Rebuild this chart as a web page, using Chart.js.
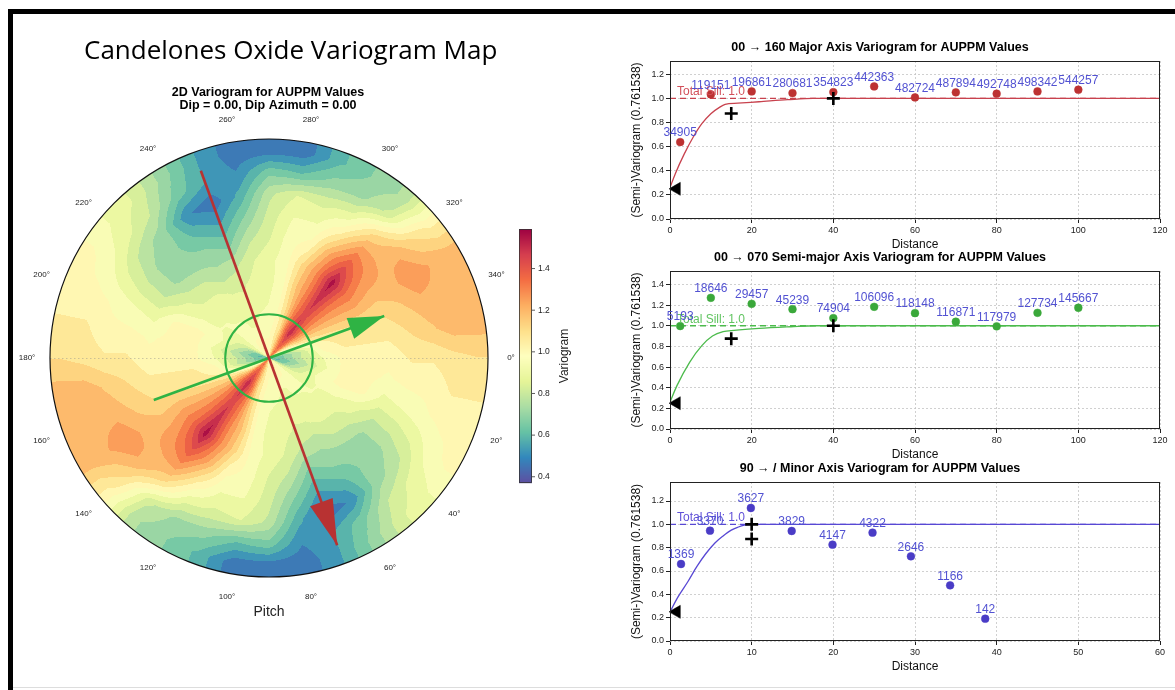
<!DOCTYPE html>
<html>
<head>
<meta charset="utf-8">
<script src="https://cdn.jsdelivr.net/npm/chart.js@4.4.1/dist/chart.umd.min.js"></script>
<style>
  html, body { margin: 0; padding: 0; width: 1175px; height: 690px; overflow: hidden; background: #fff; }
  .edge { position: absolute; background: #000; }
  #mainTitle { position: absolute; left: 84px; top: 32px; font-family: 'Open Sans', sans-serif; font-size: 26px;
               line-height: 34px; color: #000; white-space: nowrap; z-index: 5; }
  canvas { position: absolute; }
</style>
</head>
<body>
<div class="edge" style="left:8px;top:9px;width:1167px;height:5px"></div>
<div class="edge" style="left:8px;top:9px;width:5px;height:681px"></div>
<div class="edge" style="left:13px;top:687px;width:1162px;height:1px;background:#ddd"></div>
<div id="mainTitle">Candelones Oxide Variogram Map</div>

<canvas id="mapChart" width="600" height="690" style="left:0;top:0"></canvas>
<canvas id="majorChart" width="630" height="219" style="left:600px;top:35px"></canvas>
<canvas id="semiChart" width="630" height="219" style="left:600px;top:245px"></canvas>
<canvas id="minorChart" width="630" height="220" style="left:600px;top:456px"></canvas>

<script>
// ---------------- 2D variogram map ----------------
// Angles (degrees, clockwise from east) of the map columns. The map is centrosymmetric,
// so the column at angle a also holds the values at a + 180.
const mapAngles = [0, 10, 20, 30, 40, 50, 60, 70, 80, 90, 100, 110, 120, 130, 140, 150, 160, 170];
// Lag rings as a fraction of the maximum lag
const mapRadii = [0.05, 0.15, 0.25, 0.35, 0.45, 0.55, 0.65, 0.75, 0.85, 0.95];
// Standardised variogram value per angle (rows) and ring (columns)
const mapGamma = [
  [0.65, 0.80, 0.92, 1.00, 1.00, 1.00, 1.05, 1.05, 1.08, 1.10],
  [0.60, 0.75, 0.90, 1.00, 1.00, 0.97, 1.00, 1.00, 1.05, 1.05],
  [0.65, 0.82, 0.95, 1.00, 1.00, 0.90, 0.93, 0.97, 1.00, 1.00],
  [0.85, 0.88, 0.92, 0.92, 0.88, 0.80, 0.82, 0.87, 0.95, 1.00],
  [0.95, 0.93, 0.92, 0.88, 0.82, 0.72, 0.72, 0.77, 0.88, 0.92],
  [1.00, 0.95, 0.90, 0.88, 0.80, 0.70, 0.68, 0.70, 0.80, 0.85],
  [1.05, 0.92, 0.90, 0.85, 0.75, 0.70, 0.60, 0.50, 0.65, 0.70],
  [1.00, 0.92, 0.88, 0.85, 0.78, 0.65, 0.55, 0.45, 0.55, 0.55],
  [1.00, 0.95, 0.90, 0.88, 0.85, 0.78, 0.68, 0.58, 0.50, 0.45],
  [1.00, 0.95, 0.92, 0.90, 0.90, 0.85, 0.82, 0.78, 0.65, 0.45],
  [1.05, 1.00, 0.97, 0.95, 0.95, 0.95, 0.92, 0.86, 0.62, 0.45],
  [1.15, 1.10, 1.12, 1.15, 1.12, 1.00, 0.92, 0.84, 0.70, 0.60],
  [1.25, 1.35, 1.32, 1.30, 1.30, 1.22, 1.05, 0.88, 0.72, 0.68],
  [1.35, 1.52, 1.45, 1.50, 1.56, 1.40, 1.25, 1.08, 0.82, 0.75],
  [1.30, 1.35, 1.32, 1.32, 1.34, 1.28, 1.22, 1.20, 1.10, 1.02],
  [1.00, 1.15, 1.18, 1.20, 1.22, 1.18, 1.20, 1.28, 1.22, 1.20],
  [0.75, 0.95, 1.05, 1.08, 1.10, 1.10, 1.15, 1.20, 1.20, 1.20],
  [0.65, 0.80, 1.00, 1.05, 1.05, 1.05, 1.10, 1.15, 1.20, 1.20]
];
const colorMin = 0.37, colorMax = 1.59, colorLevels = 20;
const colorTicks = [0.4, 0.6, 0.8, 1.0, 1.2, 1.4];
const pitchTicks = [0, 20, 40, 60, 80, 100, 120, 140, 160, 180, 200, 220, 240, 260, 280, 300, 320, 340];
// Fitted anisotropy axes: direction of the arrow head (deg) and half length (fraction of max lag)
const axisAngles = [70, 340];
const axisLengths = [0.91, 0.56];
const axisColors = ['#b83232', '#2fb344'];
const minorRangeRadius = 0.2;

// Spectral_r colour map
const spectralStops = [[94,79,162],[50,136,189],[102,194,165],[171,221,164],[230,245,152],[255,255,191],
                       [254,224,139],[253,174,97],[244,109,67],[213,62,79],[158,1,66]];
function spectralR(t) {
  t = Math.max(0, Math.min(1, t));
  const s = t * (spectralStops.length - 1);
  const i = Math.min(spectralStops.length - 2, Math.floor(s));
  const f = s - i, a = spectralStops[i], b = spectralStops[i + 1];
  return [a[0] + (b[0] - a[0]) * f, a[1] + (b[1] - a[1]) * f, a[2] + (b[2] - a[2]) * f];
}

function sampleMap(r, th) {
  const nA = mapAngles.length, full = nA * 2;
  const aStep = mapAngles[1] - mapAngles[0];
  let ai = (th - mapAngles[0]) / aStep;
  ai = ((ai % full) + full) % full;
  const i0 = Math.floor(ai), f = ai - i0, i1 = (i0 + 1) % full;
  const row0 = mapGamma[i0 % nA], row1 = mapGamma[i1 % nA];
  const rStep = mapRadii[1] - mapRadii[0];
  let ri = (r - mapRadii[0]) / rStep;
  ri = Math.max(0, Math.min(mapRadii.length - 1, ri));
  const k0 = Math.floor(ri), k1 = Math.min(k0 + 1, mapRadii.length - 1), g = ri - k0;
  const v0 = row0[k0] * (1 - g) + row0[k1] * g;
  const v1 = row1[k0] * (1 - g) + row1[k1] * g;
  return v0 * (1 - f) + v1 * f;
}

function levelColor(v) {
  const step = (colorMax - colorMin) / colorLevels;
  let k = Math.floor((v - colorMin) / step);
  k = Math.max(0, Math.min(colorLevels - 1, k));
  return spectralR((k + 0.5) / colorLevels);
}

const deg = Math.PI / 180;
function axisPoints(i) {
  const a = axisAngles[i] * deg, L = axisLengths[i];
  return [{x: -L * Math.cos(a), y: -L * Math.sin(a)}, {x: L * Math.cos(a), y: L * Math.sin(a)}];
}

const polarMapPlugin = {
  id: 'polarMap',
  beforeDatasetsDraw(chart) {
    const {ctx, chartArea: a, scales: {x, y}} = chart;
    const w = Math.round(a.right - a.left), h = Math.round(a.bottom - a.top);
    const off = document.createElement('canvas');
    off.width = w; off.height = h;
    const octx = off.getContext('2d');
    const img = octx.createImageData(w, h);
    for (let j = 0; j < h; j++) {
      const vy = y.getValueForPixel(a.top + j + 0.5);
      for (let i = 0; i < w; i++) {
        const vx = x.getValueForPixel(a.left + i + 0.5);
        const r = Math.hypot(vx, vy);
        if (r > 1) continue;
        let th = Math.atan2(vy, vx) / deg;
        if (th < 0) th += 360;
        const c = levelColor(sampleMap(r, th));
        const k = (j * w + i) * 4;
        img.data[k] = c[0]; img.data[k + 1] = c[1]; img.data[k + 2] = c[2]; img.data[k + 3] = 255;
      }
    }
    octx.putImageData(img, 0, 0);
    ctx.drawImage(off, a.left, a.top);

    const cx = x.getPixelForValue(0), cy = y.getPixelForValue(0);
    const R = x.getPixelForValue(1) - cx;
    // faint polar grid line along 0/180
    ctx.save();
    ctx.strokeStyle = 'rgba(140,140,140,0.55)';
    ctx.lineWidth = 0.8;
    ctx.setLineDash([1.5, 2.5]);
    ctx.beginPath(); ctx.moveTo(cx - R, cy + 0.5); ctx.lineTo(cx + R, cy + 0.5); ctx.stroke();
    ctx.setLineDash([]);
    // outer boundary
    ctx.strokeStyle = '#111'; ctx.lineWidth = 1.2;
    ctx.beginPath(); ctx.arc(cx, cy, R, 0, Math.PI * 2); ctx.stroke();
    // minor range circle
    ctx.strokeStyle = axisColors[1]; ctx.lineWidth = 2;
    ctx.beginPath(); ctx.arc(cx, cy, minorRangeRadius * R, 0, Math.PI * 2); ctx.stroke();
    ctx.restore();
  },
  afterDatasetsDraw(chart) {
    const {ctx} = chart;
    const heads = [[46, 24], [36, 22]];
    chart.data.datasets.forEach((ds, i) => {
      const pts = chart.getDatasetMeta(i).data;
      const p0 = pts[0], p1 = pts[1];
      const ang = Math.atan2(p1.y - p0.y, p1.x - p0.x);
      const [len, wid] = heads[i];
      ctx.save();
      ctx.translate(p1.x, p1.y); ctx.rotate(ang);
      ctx.fillStyle = ds.borderColor;
      ctx.beginPath(); ctx.moveTo(0, 0); ctx.lineTo(-len, wid / 2); ctx.lineTo(-len, -wid / 2); ctx.closePath(); ctx.fill();
      ctx.restore();
    });
  },
  afterDraw(chart) {
    const {ctx, chartArea: a, scales: {x, y}} = chart;
    const cx = x.getPixelForValue(0), cy = y.getPixelForValue(0);
    const R = x.getPixelForValue(1) - cx;
    ctx.save();
    ctx.fillStyle = '#222';
    ctx.textAlign = 'center'; ctx.textBaseline = 'middle';
    ctx.font = "8px 'Liberation Sans', Arial, sans-serif";
    pitchTicks.forEach(t => {
      const rr = 1.105 * R;
      ctx.fillText(t + '°', cx + rr * Math.cos(t * deg), cy + rr * Math.sin(t * deg));
    });
    ctx.font = "14px 'Liberation Sans', Arial, sans-serif";
    ctx.fillText('Pitch', cx, cy + 1.16 * R);
    ctx.fillStyle = '#000';
    ctx.font = "bold 12.5px 'Liberation Sans', Arial, sans-serif";
    ctx.fillText('2D Variogram for AUPPM Values', cx - 1, a.top - 46);
    ctx.fillText('Dip = 0.00, Dip Azimuth = 0.00', cx - 1, a.top - 33);

    // colour bar
    const bx = a.right + 31, bw = 13, bTop = cy - 129, bBot = cy + 125;
    const span = bBot - bTop;
    for (let p = 0; p < span; p++) {
      const c = spectralR(1 - (p + 0.5) / span);
      ctx.fillStyle = `rgb(${c[0] | 0},${c[1] | 0},${c[2] | 0})`;
      ctx.fillRect(bx, bTop + p, bw, 1.2);
    }
    ctx.strokeStyle = '#333'; ctx.lineWidth = 0.8;
    ctx.strokeRect(bx + 0.5, bTop + 0.5, bw - 1, span - 1);
    ctx.fillStyle = '#222';
    ctx.font = "8.5px 'Liberation Sans', Arial, sans-serif";
    ctx.textAlign = 'left';
    colorTicks.forEach(t => {
      const py = bBot - (t - colorMin) / (colorMax - colorMin) * span;
      ctx.beginPath(); ctx.moveTo(bx + bw, py); ctx.lineTo(bx + bw + 3, py); ctx.stroke();
      ctx.fillText(t.toFixed(1), bx + bw + 6, py);
    });
    ctx.translate(bx + 46, (bTop + bBot) / 2);
    ctx.rotate(-Math.PI / 2);
    ctx.textAlign = 'center';
    ctx.font = "12px 'Liberation Sans', Arial, sans-serif";
    ctx.fillText('Variogram', 0, 0);
    ctx.restore();
  }
};

new Chart(document.getElementById('mapChart'), {
  type: 'scatter',
  data: {
    datasets: [0, 1].map(i => ({
      data: axisPoints(i), showLine: true, borderColor: axisColors[i], borderWidth: 2.6,
      pointRadius: 0, clip: false
    }))
  },
  options: {
    responsive: false, animation: false, devicePixelRatio: 1, events: [],
    layout: {padding: {left: 50, top: 139, right: 112, bottom: 113}},
    plugins: {legend: {display: false}, tooltip: {enabled: false}},
    scales: {
      x: {type: 'linear', min: -1, max: 1, display: false},
      y: {type: 'linear', min: -1, max: 1, display: false, reverse: true}
    }
  },
  plugins: [polarMapPlugin]
});

// ---------------- Directional variograms ----------------
const sillValue = 1.0;
const nuggetGamma = 0.25;

const majorLag   = [2.5, 10, 20, 30, 40, 50, 60, 70, 80, 90, 100];
const majorGamma = [0.638, 1.033, 1.058, 1.044, 1.052, 1.099, 1.008, 1.05, 1.039, 1.058, 1.072];
const majorPairs = [34905, 119151, 196861, 280681, 354823, 442363, 482724, 487894, 492748, 498342, 544257];
const majorModelLag   = [0, 1.3, 3.5, 5.7, 7.8, 10, 12.2, 13.5, 16.6, 21.8, 28.8, 35, 120];
const majorModelGamma = [0.26, 0.376, 0.54, 0.68, 0.79, 0.873, 0.928, 0.95, 0.96, 0.972, 0.989, 1.0, 1.0];
const majorRangeLag   = [15, 40];
const majorRangeGamma = [0.875, 1.0];

const semiLag   = [2.5, 10, 20, 30, 40, 50, 60, 70, 80, 90, 100];
const semiGamma = [0.997, 1.27, 1.212, 1.16, 1.074, 1.183, 1.122, 1.039, 0.994, 1.125, 1.174];
const semiPairs = [5193, 18646, 29457, 45239, 74904, 106096, 118148, 116871, 117979, 127734, 145667];
const semiModelLag   = [0, 1.7, 4.8, 7.8, 10.4, 13, 15.7, 21.8, 29.6, 35.7, 120];
const semiModelGamma = [0.26, 0.42, 0.646, 0.807, 0.9, 0.942, 0.955, 0.974, 0.99, 1.0, 1.0];
const semiRangeLag   = [15, 40];
const semiRangeGamma = [0.875, 1.0];

const minorLag   = [1.35, 4.9, 9.9, 14.9, 19.9, 24.8, 29.5, 34.3, 38.6];
const minorGamma = [0.66, 0.946, 1.14, 0.943, 0.826, 0.929, 0.726, 0.477, 0.191];
const minorPairs = [1369, 3370, 3627, 3829, 4147, 4322, 2646, 1166, 142];
const minorModelLag   = [0, 1, 2.2, 3.3, 4.4, 5.5, 6.5, 7.5, 8.3, 9.1, 10, 60];
const minorModelGamma = [0.25, 0.38, 0.51, 0.64, 0.75, 0.84, 0.9, 0.95, 0.975, 0.993, 1.0, 1.0];
const minorRangeLag   = [10, 10];
const minorRangeGamma = [0.875, 1.0];

const pairLabelColor = '#5252d2';

const variogramDecor = {
  id: 'variogramDecor',
  afterDatasetsDraw(chart, args, opts) {
    const {ctx, chartArea: a, scales: {x, y}} = chart;
    ctx.save();
    // plot frame
    ctx.strokeStyle = '#222'; ctx.lineWidth = 1;
    ctx.strokeRect(Math.round(a.left) + 0.5, Math.round(a.top) + 0.5,
                   Math.round(a.right - a.left) - 1, Math.round(a.bottom - a.top) - 1);
    // sill label
    ctx.font = "12px 'Liberation Sans', Arial, sans-serif";
    ctx.fillStyle = opts.sillColor;
    ctx.textAlign = 'left'; ctx.textBaseline = 'alphabetic';
    ctx.fillText('Total Sill: ' + sillValue.toFixed(1), x.getPixelForValue(0) + 7, y.getPixelForValue(sillValue) - 3);
    // pair counts above each experimental point
    const pts = chart.getDatasetMeta(opts.pointsIndex).data;
    ctx.fillStyle = pairLabelColor;
    ctx.textAlign = 'center'; ctx.textBaseline = 'middle';
    pts.forEach((p, i) => ctx.fillText(String(opts.pairs[i]), p.x, p.y - 9));
    ctx.restore();
  }
};

function xy(xs, ys) { return xs.map((v, i) => ({x: v, y: ys[i]})); }

function makeVariogram(id, spec) {
  return new Chart(document.getElementById(id), {
    type: 'scatter',
    data: {
      datasets: [
        {data: xy(spec.rangeLag, spec.rangeGamma), pointStyle: 'cross', pointRadius: 6.5,
         pointBorderWidth: 2.6, borderColor: '#000', backgroundColor: '#000', clip: false},
        {data: [{x: spec.nuggetLag, y: nuggetGamma}], pointStyle: 'triangle', rotation: 270, pointRadius: 7.5,
         borderColor: '#000', backgroundColor: '#000', borderWidth: 0.5, clip: false},
        {data: xy(spec.lag, spec.gamma), pointRadius: 3.9, backgroundColor: spec.pointColor,
         borderColor: spec.pointColor, borderWidth: 0.5},
        {data: xy(spec.modelLag, spec.modelGamma), showLine: true, pointRadius: 0, borderColor: spec.lineColor,
         borderWidth: 1.3, cubicInterpolationMode: 'monotone'},
        {data: [{x: 0, y: sillValue}, {x: spec.xMax, y: sillValue}], showLine: true, pointRadius: 0,
         borderColor: spec.lineColor, borderWidth: 1.3, borderDash: [6, 4]}
      ]
    },
    options: {
      responsive: false, animation: false, devicePixelRatio: 1, events: [],
      layout: {padding: {left: 0, right: 70, top: 0, bottom: 0}},
      plugins: {
        legend: {display: false}, tooltip: {enabled: false},
        title: {display: true, text: spec.title, color: '#000', padding: {top: 5, bottom: 6},
                font: {size: 12.5, weight: 'bold', family: "'Liberation Sans', Arial, sans-serif"}},
        variogramDecor: {pointsIndex: 2, pairs: spec.pairs, sillColor: spec.sillColor}
      },
      scales: {
        x: {
          type: 'linear', min: 0, max: spec.xMax,
          afterFit(s) { s.height = 35; },
          ticks: {stepSize: spec.xStep, includeBounds: false, autoSkip: false, maxRotation: 0, padding: 2,
                  color: '#222', font: {size: 9, family: "'Liberation Sans', Arial, sans-serif"}},
          grid: {color: '#c4c4c4', lineWidth: 0.8, tickLength: 4, tickColor: '#222', tickWidth: 1},
          border: {display: false, dash: [2, 2]},
          title: {display: true, text: 'Distance', color: '#111', padding: {top: 0, bottom: 2},
                  font: {size: 12, family: "'Liberation Sans', Arial, sans-serif"}}
        },
        y: {
          type: 'linear', min: 0, max: spec.yMax,
          afterFit(s) { s.width = 70; },
          ticks: {stepSize: 0.2, includeBounds: false, padding: 2, color: '#222',
                  callback: v => v.toFixed(1), font: {size: 9, family: "'Liberation Sans', Arial, sans-serif"}},
          grid: {color: '#c4c4c4', lineWidth: 0.8, tickLength: 4, tickColor: '#222', tickWidth: 1},
          border: {display: false, dash: [2, 2]},
          title: {display: true, text: '(Semi-)Variogram (0.761538)', color: '#111', padding: {top: 29, bottom: 0},
                  font: {size: 12, family: "'Liberation Sans', Arial, sans-serif"}}
        }
      }
    },
    plugins: [variogramDecor]
  });
}

makeVariogram('majorChart', {
  title: '00 → 160 Major Axis Variogram for AUPPM Values',
  lag: majorLag, gamma: majorGamma, pairs: majorPairs,
  modelLag: majorModelLag, modelGamma: majorModelGamma,
  rangeLag: majorRangeLag, rangeGamma: majorRangeGamma, nuggetLag: 1.6,
  xMax: 120, xStep: 20, yMax: 1.31,
  pointColor: '#bd3232', lineColor: '#c8424e', sillColor: '#d2505a'
});
makeVariogram('semiChart', {
  title: '00 → 070 Semi-major Axis Variogram for AUPPM Values',
  lag: semiLag, gamma: semiGamma, pairs: semiPairs,
  modelLag: semiModelLag, modelGamma: semiModelGamma,
  rangeLag: semiRangeLag, rangeGamma: semiRangeGamma, nuggetLag: 1.6,
  xMax: 120, xStep: 20, yMax: 1.53,
  pointColor: '#3aa83a', lineColor: '#4cbb4c', sillColor: '#62c462'
});
makeVariogram('minorChart', {
  title: '90 → / Minor Axis Variogram for AUPPM Values',
  lag: minorLag, gamma: minorGamma, pairs: minorPairs,
  modelLag: minorModelLag, modelGamma: minorModelGamma,
  rangeLag: minorRangeLag, rangeGamma: minorRangeGamma, nuggetLag: 0.8,
  xMax: 60, xStep: 10, yMax: 1.363,
  pointColor: '#4a3cc6', lineColor: '#5848d4', sillColor: '#6050d8'
});
</script>
</body>
</html>
